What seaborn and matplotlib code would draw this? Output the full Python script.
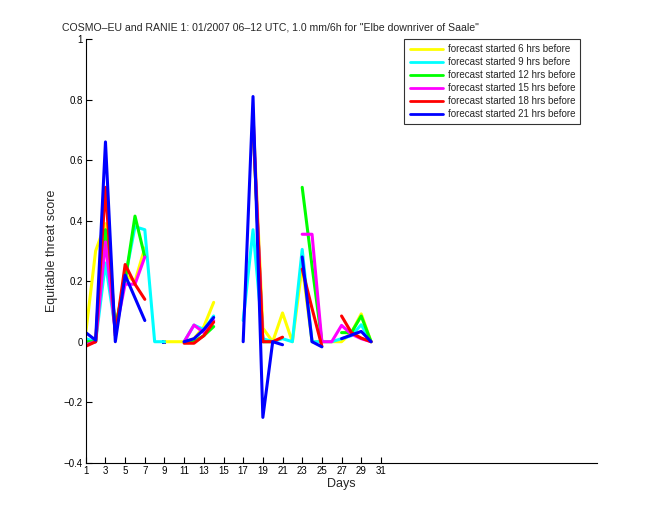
import numpy as np
import pandas as pd
import matplotlib
matplotlib.use("Agg")
import matplotlib.pyplot as plt
import seaborn as sns

nan = np.nan
days = list(range(1, 31))
labels = ["forecast started 6 hrs before", "forecast started 9 hrs before",
          "forecast started 12 hrs before", "forecast started 15 hrs before",
          "forecast started 18 hrs before", "forecast started 21 hrs before"]
colors = ["#ffff00", "#00ffff", "#00ff00", "#ff00ff", "#ff0000", "#0000ff"]

ets_6h = [0.03, 0.30, 0.39, 0.04, 0.22, 0.20, 0.31, nan, 0.0, 0.0,
          0.0, 0.01, 0.05, 0.13, nan, nan, nan, 0.75, 0.045, 0.0,
          0.095, 0.0, 0.25, 0.0, 0.0, 0.0, 0.0, 0.03, 0.092, 0.0]
ets_9h = [0.01, 0.0, 0.26, 0.04, 0.21, 0.38, 0.37, 0.0, 0.0, nan,
          0.0, 0.055, 0.04, 0.085, nan, nan, 0.07, 0.37, 0.01, 0.0,
          0.01, 0.0, 0.305, 0.0, 0.0, 0.0, 0.01, 0.02, 0.056, 0.0]
ets_12h = [0.0, 0.0, 0.37, 0.05, 0.20, 0.415, 0.28, nan, nan, nan,
           0.0, 0.0, 0.02, 0.05, nan, nan, nan, 0.72, 0.0, 0.0,
           nan, nan, 0.51, 0.25, 0.0, nan, 0.03, 0.03, 0.085, 0.0]
ets_15h = [-0.01, 0.0, 0.33, 0.03, 0.19, 0.19, 0.28, nan, nan, nan,
           0.0, 0.055, 0.03, 0.07, nan, nan, nan, 0.75, 0.0, nan,
           nan, nan, 0.355, 0.355, 0.0, 0.0, 0.054, 0.025, 0.01, 0.0]
ets_18h = [-0.015, 0.0, 0.51, 0.02, 0.255, 0.19, 0.14, nan, nan, nan,
           -0.005, -0.005, 0.02, 0.065, nan, nan, nan, 0.72, 0.0, 0.0,
           0.015, nan, 0.24, 0.11, -0.015, nan, 0.085, 0.03, 0.012, 0.0]
ets_21h = [0.03, 0.005, 0.66, 0.0, 0.22, 0.145, 0.07, nan, 0.0, nan,
           0.0, 0.01, 0.04, 0.08, nan, nan, 0.0, 0.81, -0.25, 0.0,
           -0.01, nan, 0.28, 0.0, -0.017, nan, 0.01, 0.022, 0.034, 0.0]
series = [ets_6h, ets_9h, ets_12h, ets_15h, ets_18h, ets_21h]

rows = []
for lab, vals in zip(labels, series):
    seg = 0
    prev_nan = True
    for d, v in zip(days, vals):
        if np.isnan(v):
            prev_nan = True
            continue
        if prev_nan:
            seg += 1
        prev_nan = False
        rows.append({"day": d, "ets": v, "series": lab, "seg": f"{lab}-{seg}"})
df = pd.DataFrame(rows)
counts = df.groupby("seg")["day"].transform("count")

sns.set_style("white")
plt.rcParams["font.family"] = ["Liberation Sans", "DejaVu Sans"]

fig = plt.figure(figsize=(6.6, 5.2), dpi=100)
ax = fig.add_axes([0.13, 0.11, 0.775, 0.815])
pal = dict(zip(labels, colors))
sns.lineplot(data=df, x="day", y="ets", hue="series", units="seg",
             estimator=None, palette=pal, hue_order=labels, lw=2.2,
             sort=False, ax=ax, legend=True)
iso = df[counts == 1]
if len(iso):
    sns.scatterplot(data=iso, x="day", y="ets", hue="series", palette=pal,
                    s=10, marker="s", linewidth=0, ax=ax, legend=False)

ax.set_xlim(1, 53)
ax.set_ylim(-0.4, 1)
ax.set_xticks(list(range(1, 32, 2)))
ax.set_yticks([-0.4, -0.2, 0, 0.2, 0.4, 0.6, 0.8, 1])
ax.set_yticklabels(["\u22120.4", "\u22120.2", "0", "0.2", "0.4", "0.6", "0.8", "1"])
ax.tick_params(direction="in", length=4, width=0.8, labelsize=7, colors="black",
               left=True, bottom=True, pad=2)
for s in ["top", "right"]:
    ax.spines[s].set_visible(False)
for s in ["left", "bottom"]:
    ax.spines[s].set_color("black")
    ax.spines[s].set_linewidth(0.8)
ax.set_xlabel("Days", fontsize=9, labelpad=2)
ax.set_ylabel("Equitable threat score", fontsize=9, labelpad=4)
fig.text(0.41, 0.948, 'COSMO\u2013EU and RANIE 1: 01/2007 06\u201312 UTC, 1.0 mm/6h for "Elbe downriver of Saale"',
         ha="center", va="center", fontsize=7.6)

handles, labs = ax.get_legend_handles_labels()
leg = ax.legend(handles, labs, loc="upper right", bbox_to_anchor=(0.967, 1.0),
                borderaxespad=0, fontsize=7.0, frameon=True, fancybox=False,
                handlelength=3.4, labelspacing=0.3, handletextpad=0.5,
                borderpad=0.55)
leg.get_frame().set_edgecolor("black")
leg.get_frame().set_linewidth(0.8)
for line in leg.get_lines():
    line.set_linewidth(2)

fig.savefig("out.png", dpi=100, facecolor="white")
